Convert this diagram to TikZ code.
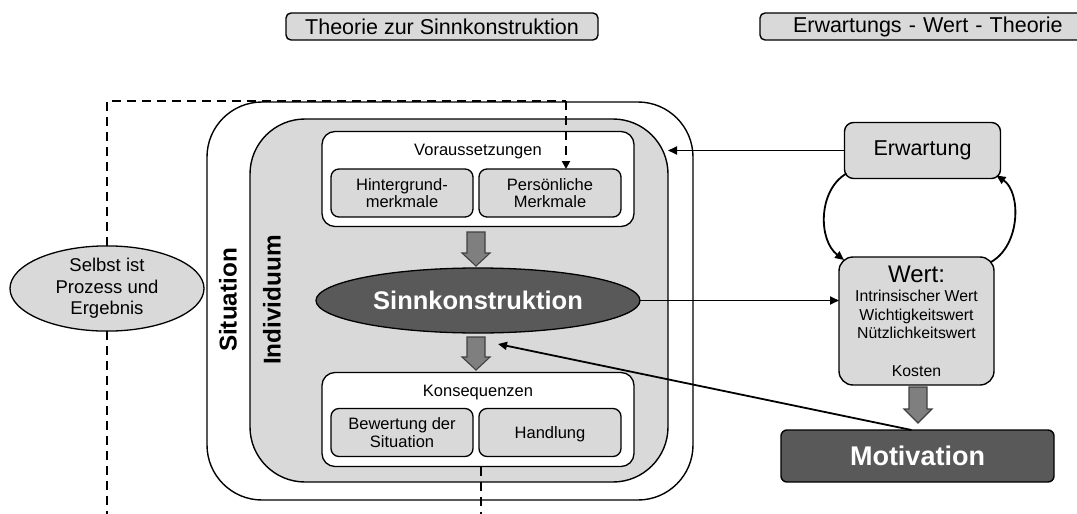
\documentclass[tikz,border=0pt]{standalone}
\usepackage{fontspec}
\setmainfont{Liberation Sans}
\usetikzlibrary{arrows.meta,shapes.geometric,calc}
\definecolor{lgray}{HTML}{D9D9D9}
\definecolor{dgray}{HTML}{595959}
\definecolor{agray}{HTML}{7F7F7F}
\newcommand{\fs}[1]{\fontsize{#1}{#1}\selectfont}
\tikzset{
  x=1pt, y=-1pt,
  every node/.style={inner sep=0pt, outer sep=0pt},
  headerbox/.style={draw, line width=1.4pt, fill=lgray, rounded corners=5pt, minimum height=27pt, font=\fs{21.5}},
  bigbox/.style={draw, line width=1.4pt, rounded corners=55pt},
  groupbox/.style={draw, line width=1.3pt, fill=white, rounded corners=13pt},
  smallbox/.style={draw, line width=1.3pt, fill=lgray, rounded corners=8pt, minimum width=142pt, minimum height=48pt, align=center, font=\fs{16.5}, text depth=0pt},
  grouptitle/.style={font=\fs{16.5}},
  conn/.style={line width=1.8pt, -{Triangle[length=9pt,width=8pt]}},
  dashline/.style={line width=2pt, dash pattern=on 9pt off 6pt},
  blockarrow/.style={draw=black!75, line width=1.1pt, fill=agray},
  rottext/.style={rotate=90, font=\bfseries\fs{24.3}},
}
\begin{document}
\begin{tikzpicture}
\useasboundingbox (0,0) rectangle (1077,514);
\begin{scope}
\clip (0,0) rectangle (1077,514);
% header boxes
\node[headerbox, minimum width=312pt] (hdrA) at (442,26.5) {Theorie zur Sinnkonstruktion};
\node[headerbox, minimum width=330pt, text width=326pt, align=left] (hdrB) at (925,26.5) {\hspace*{31pt}Erwartungs - Wert - Theorie};

% Situation and Individuum
\node[bigbox, minimum width=486pt, minimum height=398pt] (situation) at (450,301) {};
\node[bigbox, fill=lgray, minimum width=418pt, minimum height=363pt] (individuum) at (459,300.5) {};
\node[rottext] (sitlabel) at (228,300) {Situation};
\node[rottext] (indlabel) at (272,300) {Individuum};

% Voraussetzungen
\node[groupbox, minimum width=312pt, minimum height=95pt] (vor) at (478,179) {};
\node[grouptitle] (vortitle) at (478,152) {Voraussetzungen};
\node[smallbox] (hint) at (402,193) {Hintergrund-\\[1pt]merkmale};
\node[smallbox] (pers) at (550,193) {Persönliche\\[1pt]Merkmale};

% Sinnkonstruktion
\node[ellipse, draw, line width=1.3pt, fill=dgray, minimum width=324pt, minimum height=65pt, text=white, font=\bfseries\fs{25.5}] (sinn) at (478,300.5) {Sinnkonstruktion};

% Konsequenzen
\node[groupbox, minimum width=312pt, minimum height=94pt] (kon) at (478,419.5) {};
\node[grouptitle] (kontitle) at (478,393) {Konsequenzen};
\node[smallbox] (bew) at (402,432.5) {Bewertung der\\[1pt]Situation};
\node[smallbox] (hand) at (550,432.5) {Handlung};

% block arrows
\coordinate (ba1) at (476,232);
\draw[blockarrow] ($(ba1)+(-9,0)$) -- ++(18,0) -- ++(0,21) -- ++(5,0) -- ++(-14,13) -- ++(-14,-13) -- ++(5,0) -- cycle;
\coordinate (ba2) at (476,337);
\draw[blockarrow] ($(ba2)+(-9,0)$) -- ++(18,0) -- ++(0,20) -- ++(5,0) -- ++(-14,13) -- ++(-14,-13) -- ++(5,0) -- cycle;
\coordinate (ba3) at (918,387);
\draw[blockarrow] ($(ba3)+(-9,0)$) -- ++(18,0) -- ++(0,22) -- ++(5,0) -- ++(-14,14) -- ++(-14,-14) -- ++(5,0) -- cycle;

% Selbst ellipse
\node[ellipse, draw, line width=1.3pt, fill=lgray, minimum width=194pt, minimum height=83pt, align=center, font=\fs{18.5}] (selbst) at (107,288.5) {Selbst ist\\[3pt]Prozess und\\[3pt]Ergebnis};

% right side
\node[draw, line width=1.4pt, fill=lgray, rounded corners=9pt, minimum width=156pt, minimum height=56pt, font=\fs{21.5}] (erw) at (922.5,150.5) {Erwartung};
\node[draw, line width=1.4pt, fill=lgray, rounded corners=14pt, minimum width=155pt, minimum height=128pt] (wert) at (916.5,321) {};
\node[align=center, font=\fs{15.8}, anchor=north] (werttext) at (916.5,266) {{\fs{24}Wert:}\\[3pt]Intrinsischer Wert\\[3pt]Wichtigkeitswert\\[3pt]Nützlichkeitswert\\[22pt]Kosten};
\node[draw, line width=1.4pt, fill=dgray, rounded corners=6pt, minimum width=273pt, minimum height=52pt, text=white, font=\bfseries\fs{27}] (motiv) at (917.5,456) {Motivation};

% dashed lines
\coordinate (dTL) at (107,101);
\coordinate (dTR) at (566,101);
\coordinate (dBL) at (107,514);
\coordinate (dBR) at (481,514);
\draw[dashline] (selbst.north) -- (dTL) -- (dTR);
\draw[dashline, -{Triangle[length=8pt,width=8pt]}] (dTR) -- (pers.north -| dTR);
\draw[dashline] (selbst.south) -- (dBL);
\draw[dashline] (kon.south -| dBR) -- (dBR);

% connectors
\draw[conn] (erw.west) -- (erw.west -| individuum.east);
\draw[conn] (sinn.east) -- (sinn.east -| wert.west);
\coordinate (motTarget) at (498,344);
\draw[conn] ($(motiv.north)+(-6,0)$) -- (motTarget);
\draw[conn] ($(erw.south west)+(2,-5)$) .. controls (818,190) and (818,240) .. ($(wert.north west)+(5,3)$);
\draw[conn] ($(wert.north east)+(-3,5)$) .. controls (1021,245) and (1021,192) .. ($(erw.south east)+(-4,-3)$);
\end{scope}
\end{tikzpicture}
\end{document}
